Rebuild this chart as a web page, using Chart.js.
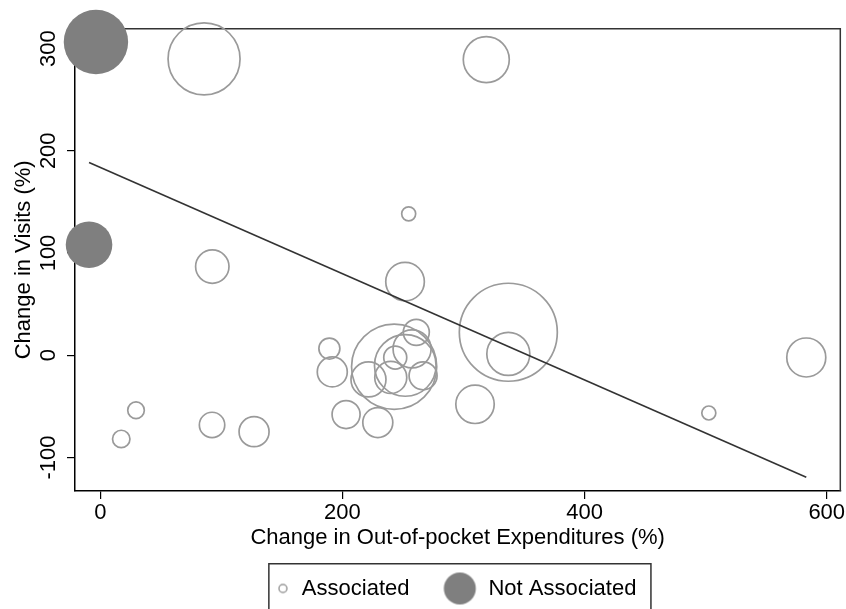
<!DOCTYPE html>
<html>
<head>
<meta charset="utf-8">
<title>Visits vs Out-of-pocket</title>
<script src="https://cdn.jsdelivr.net/npm/chart.js@4.4.1/dist/chart.umd.min.js"></script>
<style>
  html, body { margin: 0; padding: 0; background: #fff; }
  #wrap { width: 846px; height: 609px; position: relative; }
</style>
</head>
<body>
<div id="wrap"><canvas id="chart"></canvas></div>
<script>
// --- data ---
const legendLabels = ["Associated", "Not Associated"];

// associated (hollow) bubbles
const assocX    = [85.7, 92.5, 318.8, 29.5, 17.3, 92.3, 127.0, 254.7, 251.7, 337.0, 337.0, 309.5, 189.2, 191.6, 203.0, 229.2, 242.7, 251.9, 221.5, 239.9, 257.5, 243.6, 261.0, 266.6, 583.1, 502.6];
const assocY    = [289.8, 86.7, 289.2, -53.8, -81.9, -68.2, -74.8, 138.3, 72.0, 22.5, 1.3, -48.0, 6.5, -16.3, -58.0, -65.9, -11.3, -10.0, -23.7, -21.7, 6.2, -2.3, 22.4, -20.1, -2.2, -56.5];
const assocSize = [36, 16.7, 23, 8.3, 8.7, 12.7, 15, 7, 19.3, 49, 21.5, 19.2, 10.5, 15, 14, 15, 42.6, 30.8, 17.5, 16, 19, 11.5, 13, 14, 19.5, 7];

// not associated (filled) bubbles
const notAssocX    = [-3.6, -9.3];
const notAssocY    = [306.4, 108.0];
const notAssocSize = [32.2, 23.3];

// fitted line end points
const fitX = [-9.3, 583.1];
const fitY = [188.5, -119.4];

const xTicks = [0, 200, 400, 600];
const yTicks = [-100, 0, 100, 200, 300];

// --- styles ---
const FONT = "'Liberation Sans', Arial, Helvetica, sans-serif";
const FS = 22;
const HOLLOW = "#9a9a9a";
const FILL = "#7f7f7f";

function toPoints(xs, ys, rs) {
  return xs.map((x, i) => ({ x: x, y: ys[i], r: rs[i] }));
}

// legend markers as small canvases, so each entry keeps its own size
function markerCanvas(w, h, cx, r, filled) {
  const c = document.createElement("canvas");
  c.width = w;
  c.height = h;
  const g = c.getContext("2d");
  g.beginPath();
  g.arc(cx, h / 2, r, 0, Math.PI * 2);
  if (filled) {
    g.fillStyle = FILL;
    g.fill();
  } else {
    g.strokeStyle = HOLLOW;
    g.lineWidth = 1.5;
    g.stroke();
  }
  return c;
}
const markers = [markerCanvas(14, 14, 5.05, 4, false), markerCanvas(60, 36, 18.35, 16, true)];

// top + right outline of the plot region (drawn under the marks)
const plotOutline = {
  id: "plotOutline",
  beforeDatasetsDraw(chart) {
    const { ctx, chartArea: a } = chart;
    ctx.save();
    ctx.strokeStyle = "#333";
    ctx.lineWidth = 1.5;
    ctx.beginPath();
    ctx.moveTo(a.left, a.top);
    ctx.lineTo(a.right, a.top);
    ctx.lineTo(a.right, a.bottom);
    ctx.stroke();
    ctx.restore();
  },
};

// frame round the legend
const legendFrame = {
  id: "legendFrame",
  afterDraw(chart) {
    const lg = chart.legend;
    if (!lg || !lg.legendHitBoxes || lg.legendHitBoxes.length < 2) return;
    const hb = lg.legendHitBoxes;
    const cy = hb[0].top + hb[0].height / 2;
    const left = hb[0].left - 10;
    const right = hb[1].left + hb[1].width + 14.5;
    const top = cy - 24.7;
    const ctx = chart.ctx;
    ctx.save();
    ctx.strokeStyle = "#333";
    ctx.lineWidth = 1.5;
    ctx.beginPath();
    ctx.moveTo(left, chart.height + 2);
    ctx.lineTo(left, top);
    ctx.lineTo(right, top);
    ctx.lineTo(right, chart.height + 2);
    ctx.stroke();
    ctx.restore();
  },
};

new Chart(document.getElementById("chart"), {
  type: "bubble",
  data: {
    datasets: [
      {
        type: "line",
        label: "Fitted",
        data: fitX.map((x, i) => ({ x: x, y: fitY[i] })),
        borderColor: "#333",
        borderWidth: 1.6,
        pointRadius: 0,
        fill: false,
        clip: false,
      },
      {
        label: legendLabels[0],
        data: toPoints(assocX, assocY, assocSize),
        backgroundColor: "rgba(0,0,0,0)",
        borderColor: HOLLOW,
        borderWidth: 1.7,
        clip: false,
      },
      {
        label: legendLabels[1],
        data: toPoints(notAssocX, notAssocY, notAssocSize),
        backgroundColor: FILL,
        borderWidth: 0,
        clip: false,
      },
    ],
  },
  options: {
    responsive: true,
    maintainAspectRatio: false,
    animation: false,
    events: [],
    layout: { autoPadding: false, padding: { left: 0, right: 5.7, top: 28.7, bottom: 0 } },
    plugins: {
      tooltip: { enabled: false },
      legend: {
        position: "bottom",
        fullSize: false,
        maxHeight: 87.5,
        labels: {
          usePointStyle: true,
          pointStyleWidth: 12,
          padding: 56,
          color: "#000",
          font: { family: FONT, size: FS },
          generateLabels: () =>
            legendLabels.map((t, i) => ({
              text: t,
              pointStyle: markers[i],
              fillStyle: i ? FILL : "rgba(0,0,0,0)",
              strokeStyle: HOLLOW,
              lineWidth: 0,
              hidden: false,
              datasetIndex: i + 1,
            })),
        },
      },
    },
    scales: {
      x: {
        type: "linear",
        position: "bottom",
        min: -20.9,
        max: 611.2,
        z: 1,
        afterBuildTicks: (s) => { s.ticks = xTicks.map((v) => ({ value: v })); },
        afterFit: (s) => { s.height = 30.5; },
        grid: { display: true, drawOnChartArea: false, drawTicks: true, tickLength: 8, color: "#000", lineWidth: 1.2 },
        border: { display: true, color: "#000", width: 1.5 },
        ticks: { font: { family: FONT, size: FS }, color: "#000", padding: 0.3, maxRotation: 0, autoSkip: false },
        title: {
          display: true,
          text: "Change in Out-of-pocket Expenditures (%)",
          color: "#000",
          font: { family: FONT, size: FS },
          padding: { top: 0, bottom: -29.7 },
        },
      },
      y: {
        type: "linear",
        position: "left",
        min: -132.8,
        max: 319.4,
        z: 1,
        afterBuildTicks: (s) => { s.ticks = yTicks.map((v) => ({ value: v })); },
        afterFit: (s) => { s.width = 75; },
        grid: { display: true, drawOnChartArea: false, drawTicks: true, tickLength: 8, color: "#000", lineWidth: 1.2 },
        border: { display: true, color: "#000", width: 1.5 },
        ticks: {
          font: { family: FONT, size: FS },
          color: "#000",
          minRotation: 90,
          maxRotation: 90,
          crossAlign: "center",
          padding: -4,
          autoSkip: false,
        },
        title: {
          display: true,
          text: "Change in Visits (%)",
          color: "#000",
          font: { family: FONT, size: FS },
          padding: { top: 10.7, bottom: 0 },
        },
      },
    },
  },
  plugins: [plotOutline, legendFrame],
});
</script>
</body>
</html>
